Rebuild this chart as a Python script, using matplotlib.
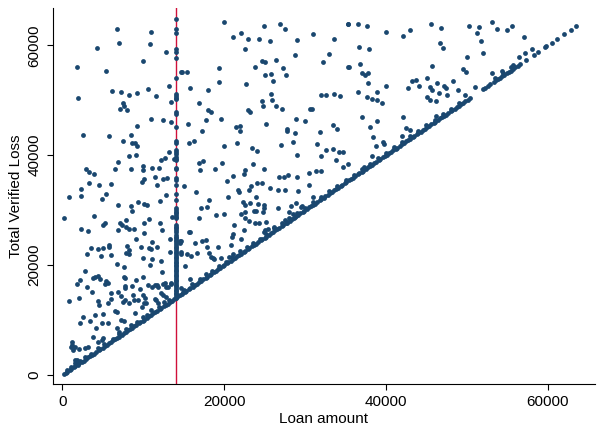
import matplotlib
matplotlib.use("Agg")
import matplotlib.pyplot as plt

plt.rcParams['font.family'] = ['Liberation Sans', 'DejaVu Sans']

# loans where verified loss equals the loan amount (points on the diagonal)
diag_loan = [
    200, 400, 600, 900, 1100, 1400, 1600, 1900, 2100, 2400, 2600, 2900, 3200, 3400,
    3700, 3900, 4200, 4500, 4700, 5000, 5200, 5500, 5800, 6000, 6300, 6500, 6800,
    7000, 7300, 7600, 7800, 8100, 8300, 8600, 8900, 9100, 9400, 9600, 9900, 10100,
    10400, 10700, 10900, 11200, 11500, 11700, 12000, 12200, 12500, 12800, 13000,
    13300, 13500, 13800, 14000, 14300, 14500, 14800, 15100, 15300, 15600, 15800,
    16100, 16400, 16600, 16900, 17100, 17400, 17700, 17900, 18200, 18400, 18700,
    19000, 19200, 19500, 19800, 20000, 20300, 20500, 20800, 21100, 21300, 21600,
    21800, 22100, 22400, 22600, 22900, 23100, 23400, 23700, 23900, 24200, 24500,
    24700, 25000, 25200, 25500, 25800, 26000, 26300, 26500, 26800, 27100, 27300,
    27600, 27800, 28100, 28400, 28600, 28900, 29100, 29400, 29700, 29900, 30200,
    30500, 30700, 31000, 31200, 31500, 31800, 32000, 32300, 32500, 32800, 33100,
    33300, 33600, 33800, 34100, 34400, 34600, 34900, 35100, 35400, 35700, 35900,
    36200, 36500, 36700, 37000, 37200, 37500, 37800, 38000, 38300, 38500, 38800,
    39100, 39300, 39600, 39900, 40100, 40400, 40600, 40900, 41200, 41400, 41700,
    42000, 42200, 42500, 42700, 43000, 43300, 43500, 43800, 44000, 44300, 44600,
    44800, 45100, 45300, 45600, 45900, 46100, 46400, 46700, 46900, 47200, 47400,
    47700, 48000, 48200, 48500, 48800, 49000, 49300, 49500, 49800, 50100, 50400,
    52000, 52300, 52600, 52900, 53300, 53600, 53800, 54100, 54400, 54600, 54900,
    55200, 55400, 55700, 56000, 56300, 56600, 57350, 58250, 58830, 59650, 59810,
    60470, 61090, 61990, 62810, 63510,
]

# loans whose loss sits just above the amount (thickens the diagonal band)
near_loan = [
    500, 1000, 1500, 2200, 2800, 3500, 4400, 5100, 6200, 7000, 7900, 9200, 10500,
    11900, 12600, 13200, 15000, 16000, 17000, 17800, 18500, 19300, 20200, 21000,
    22000, 22800, 23600, 24400, 25200, 26200, 27200, 28000, 29000, 30000, 31000,
    32000, 33000, 34000, 35000, 36000, 37000, 38000, 39000, 40000, 41000, 42000,
    43000, 44000, 45000, 46000, 47000, 48000, 49000, 53500, 54500, 55500,
]
near_loss = [
    900, 1500, 2100, 2600, 3300, 3900, 4900, 5700, 6600, 7500, 8400, 9600, 11000,
    12300, 13200, 13600, 15500, 16600, 17400, 18400, 19000, 19800, 20600, 21500,
    22500, 23300, 24100, 24800, 25700, 26700, 27600, 28500, 29500, 30400, 31500,
    32400, 33500, 34400, 35500, 36400, 37500, 38400, 39500, 40400, 41500, 42400,
    43500, 44400, 45500, 46400, 47500, 48400, 49500, 54000, 55000, 56000,
]

# losses recorded on 14000 loans (the column along the red line)
col_loan = 14000
col_loss = [
    64740, 62920, 62300, 59280, 58730, 57640, 54110, 51140, 50830, 50410, 50180,
    47920, 47500, 45080, 42590, 42170, 40950, 40500, 40220, 39700, 39400, 39130,
    37730, 37440, 35910, 35490, 34580, 32940, 31850, 30400, 30000, 29720, 29540,
    29100, 28810, 28500, 27300, 27000, 26700, 26390, 26000, 25480, 25170, 24880,
    24570, 24300, 23970, 23650, 23350, 23060, 22750, 22450, 22150, 21850, 21550,
    21250, 20930, 20650, 20350, 20050, 19750, 19450, 19150, 18850, 18550, 18250,
    17950, 17650, 17350, 17050, 16750, 16450, 16150, 15850, 15550, 15250, 14950,
    14650, 14350, 14100,
]

# remaining loans: amount and loss
other_loan = [
    6714, 10990, 4210, 7045, 10820, 12835, 10000, 1830, 5440, 14690, 6140, 7210,
    8190, 9220, 10530, 11520, 13120, 13400, 1910, 7450, 7580, 7120, 8030, 10990,
    12420, 13400, 9220, 2530, 5730, 8440, 7450, 8600, 9020, 9180,
    8190, 9140, 6920, 13120, 12630, 12140, 13740, 2860, 3230, 3840, 6510, 8520,
    10000, 10000, 11030, 11930, 3230, 4540, 5940, 9830, 10040, 11440, 12420, 12960,
    11640, 2320, 5360, 760, 2240, 4900, 12835, 9340, 10040, 10410, 12010, 6840,
    8440, 8560, 220, 3840, 13490, 7820, 10740, 7120, 7420, 7910, 8280, 8810, 5240,
    5030, 10130, 12100, 2320, 3100, 6920, 10130, 12340, 9140, 11030, 14510, 8030,
    8230, 3510, 4410, 5030, 5730, 5730, 9760, 10690, 10990, 11730, 3020, 4740,
    5940, 7820, 8190, 10000, 11110, 12140, 13240, 6800, 14690,
    7580, 10820, 12260, 2730, 3960, 4410, 3800, 4620, 1750, 2120, 5320, 5570, 5240,
    7580, 7790, 9960, 9140, 8600, 7790, 7700, 9550, 10570, 11060, 11400, 11730,
    12420, 12750, 13450, 12140, 12420, 11400, 10000, 10250, 9340, 8730, 8810, 7700,
    8190, 6880, 5980, 5940, 7290, 7490, 4410, 4540, 800, 2030, 5570, 6680, 8930,
    9830, 10080, 10370, 4950, 4000, 2530, 3350, 2160, 4090, 4830, 5640, 6470, 7290,
    7580, 6800, 6960, 4830, 5030, 4340, 3800, 1130, 1210, 1050, 1330, 1540, 2030,
    2770, 3180, 1750, 1540, 1950, 2980, 3600, 14880,
    8520, 9960, 10990, 11800, 13040, 13450, 12630, 12750, 11600, 11800, 14690,
    14560, 14690, 15620, 13330,
    15590, 16240, 17310, 21910, 20020, 21620, 23390, 24050, 27000, 28560, 28730,
    27700, 29050, 16900, 17430, 17060, 18830, 19730, 23590, 22570, 22450, 24910,
    21040, 20350, 23350, 24000, 24700, 26710, 27410, 27940, 29010, 30450, 30450,
    25650, 26630, 27500, 29140, 21660, 21830, 23100, 15010, 16450, 18170, 20430,
    23930, 22320, 22570, 23190, 24120, 24910, 23720, 23880, 24740, 24950, 22610,
    22030, 26590, 28310, 28850, 29590, 30950, 17100, 17840, 18950, 20020, 16900,
    23060, 23750, 24250, 25160, 22570, 27500, 27820, 28560, 28730, 21220, 22480,
    21130, 21010, 20800, 22080, 15710, 16410, 17230, 17770, 17840, 19280, 14640,
    16570, 18090, 18580, 18790, 19610, 15420, 15830, 18380, 15090, 15710, 21040,
    20640, 28030, 24950, 25400, 25030, 26180, 29470,
    19930, 24910, 26920, 27530, 22030, 21130, 22940, 24330, 25650, 29010, 30950,
    22610, 28730, 24620, 25030, 26430, 23800, 27290, 14720, 15420, 19320, 25030,
    25720, 27620, 26020, 19400, 22690, 15710, 18010, 25810, 16900, 24700, 25900,
    24820, 26430, 27200, 18010, 18340, 22940, 23140, 30610, 30900, 19650, 17800,
    28890, 30040, 15500, 21460, 21950, 25190, 27740,
    33610, 35260, 32920, 32220, 35300, 32010, 32620, 33530, 34310, 33490, 33900,
    31810, 31520, 31930, 32550, 33410, 34190, 34720, 33780, 35260, 31320, 31970,
    35300, 36530, 37640, 40060, 42160, 42930, 45520, 46840, 46720, 47000, 36610,
    37920, 36740, 35420, 37020, 37390, 37760, 37800, 40020, 36530, 38910, 37640,
    38220, 38910, 39520, 37020, 38910, 38010, 38410, 39610, 39730, 38750, 38220,
    34720, 42040, 42530, 42970, 41950, 43180, 43760, 42730, 44040, 45020, 45730,
    45480, 45680, 46300, 46510, 47160, 47460, 45070, 45400, 46230, 47490, 46230,
    37270,
    50200, 51520, 53120, 53740, 55010, 55590, 51230, 51800, 57020, 52010, 50040,
    49550, 49920, 53120, 54390, 55750, 56400, 57230, 58000, 50980, 48320, 48930,
    49800,
]
other_loss = [
    62972, 62426, 59460, 60370, 60300, 58790, 57200, 56060, 55330, 55090, 51740,
    51500, 50960, 51270, 52050, 50780, 52600, 49740, 50410, 49450, 49020, 48360,
    48290, 46540, 46410, 45990, 45320, 43680, 43500, 43680, 42590, 42170, 42170,
    41680,
    39920, 40100, 38820, 40530, 39440, 39130, 39260, 37490, 36950, 36530, 37490,
    37440, 37980, 37250, 37670, 37730, 34940, 34640, 34700, 35130, 35620, 36040,
    35730, 35800, 34640, 33800, 33000, 32340, 32580, 32090, 32700, 31540, 31120,
    30940, 31720, 30940, 30760, 29900, 28520, 28990, 28760, 28210, 28330, 27610,
    27250, 26880, 26630, 26630, 27610, 27250, 27610, 27720, 26630, 26210, 26390,
    25790, 26390, 24810, 24210, 24440, 23480, 22750, 23060, 22990, 23110, 23610,
    23240, 23240, 23110, 22990, 23350, 22020, 21600, 21840, 22150, 22080, 21240,
    21110, 20690, 22330, 20200, 22020,
    19600, 20080, 18800, 18870, 17890, 18070, 17600, 17470, 16510, 17290, 17110,
    16800, 16510, 17890, 17710, 17890, 17290, 16200, 16250, 15780, 15600, 16380,
    16070, 16330, 16380, 16560, 16070, 16560, 14870, 14560, 13780, 14560, 14070,
    13650, 14560, 13650, 13650, 13050, 15160, 14870, 13890, 14430, 13340, 13520,
    12740, 13520, 14070, 13050, 11470, 11340, 12430, 13160, 13160, 11050, 10920,
    10500, 9880, 9460, 8500, 9520, 9520, 11700, 10010, 9830, 8500, 7880, 6370,
    6680, 6060, 6970, 6060, 5400, 5040, 4550, 5040, 4680, 4860, 5040, 2730, 2730,
    2430, 16070, 15160, 15160,
    9100, 10610, 11830, 13050, 16070, 16690, 16800, 14250, 13650, 15960, 15780,
    23970, 22440, 26080, 24700,
    42280, 42590, 44460, 44410, 41740, 42170, 41260, 40710, 41920, 42460, 43990,
    44460, 40100, 38580, 38950, 37310, 37490, 38530, 38460, 37310, 36530, 37550,
    36280, 35360, 34450, 34940, 34940, 36090, 36090, 36400, 36090, 36820, 34580,
    34030, 33610, 33670, 33490, 33670, 33360, 33670, 34450, 33310, 31910, 32450,
    32340, 31540, 30940, 31360, 31120, 30990, 29850, 29850, 29720, 30340, 29610,
    29250, 30340, 30700, 31360, 30760, 32450, 30450, 30520, 29120, 29250, 28520,
    28080, 27660, 27720, 27790, 28570, 28210, 27660, 29360, 28810, 27250, 26450,
    25660, 25170, 23660, 24700, 26030, 23970, 24390, 24570, 23240, 23240, 24390,
    22260, 22150, 21240, 21170, 21240, 21970, 21660, 21530, 19890, 17420, 22020,
    21530, 29720, 26080, 26500, 26390, 26990, 30520,
    64300, 63520, 63940, 62920, 62240, 61520, 61150, 61150, 60840, 60970, 62010,
    59390, 58240, 57200, 57020, 57270, 56060, 55820, 55090, 55090, 55820, 54660,
    54840, 54540, 53510, 53330, 52910, 52230, 51820, 51140, 49500, 49870, 50100,
    49020, 49020, 48470, 48180, 47920, 48290, 47870, 48360, 48470, 46590, 46410,
    46590, 46280, 45630, 45190, 45260, 45630, 44720,
    61100, 63880, 58370, 57020, 56110, 50960, 51010, 51140, 50780, 45450, 44720,
    44230, 42040, 39800, 40900, 41080, 40640, 40640, 39130, 38350, 37180, 37130,
    63880, 63830, 63570, 62370, 61700, 62790, 63830, 63100, 60370, 59570, 59640,
    59390, 56660, 56060, 54960, 54600, 55020, 53200, 52650, 51450, 51450, 50600,
    50180, 50000, 49500, 46900, 46280, 45140, 43370, 42410, 42100, 41680, 39910,
    37860, 46960, 44950, 44590, 43550, 53510, 53690, 52290, 52600, 54110, 56240,
    52360, 51820, 53200, 51380, 52600, 52290, 50540, 50050, 49920, 50900, 47140,
    37910,
    63460, 63340, 64250, 63030, 62790, 63460, 62190, 60840, 61580, 58550, 57880,
    55640, 55200, 54910, 55330, 56420, 57880, 58550, 59280, 52360, 53570, 51870,
    50960,
]

loan = diag_loan + near_loan + [col_loan] * len(col_loss) + other_loan
loss = diag_loan + near_loss + col_loss + other_loss

fig = plt.figure(figsize=(5.97, 4.29), dpi=100)
ax = fig.add_axes([0.0883, 0.1049, 0.9085, 0.8765])

ax.axvline(col_loan, color='#d0103a', linewidth=1.0, zorder=1)
ax.scatter(loan, loss, s=12, color='#1a476f', linewidths=0, zorder=2)

ax.set_xlim(-1207, 65850)
ax.set_ylim(-1638, 66794)
ax.set_xticks([0, 20000, 40000, 60000])
ax.set_yticks([0, 20000, 40000, 60000])

for side in ['top', 'right']:
    ax.spines[side].set_visible(False)
for side in ['left', 'bottom']:
    ax.spines[side].set_linewidth(0.8)

ax.tick_params(axis='both', direction='out', length=4, width=0.8, labelsize=11, pad=4)
for lab in ax.get_yticklabels():
    lab.set_rotation(90)
    lab.set_va('center')

ax.set_xlabel('Loan amount', fontsize=11, labelpad=2)
ax.set_ylabel('Total Verified Loss', fontsize=11, labelpad=3)

fig.savefig('out.png', dpi=100)
